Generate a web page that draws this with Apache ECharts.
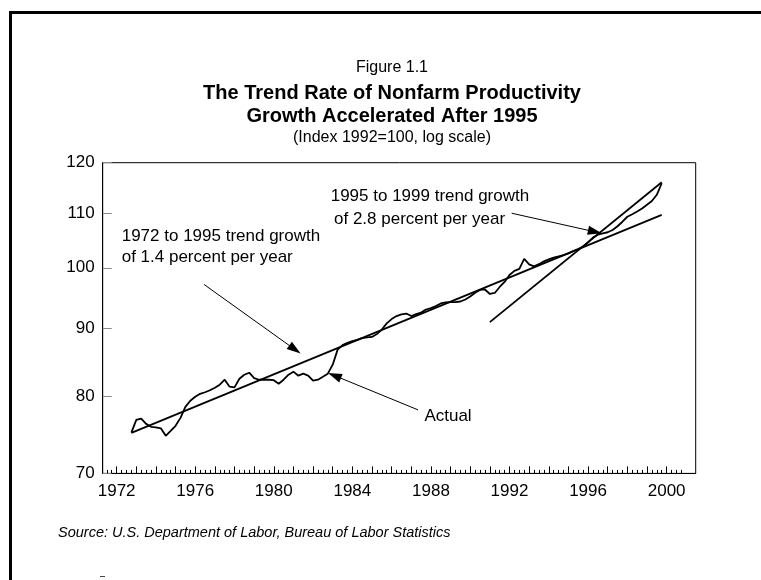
<!DOCTYPE html>
<html><head><meta charset="utf-8">
<script src="https://cdn.jsdelivr.net/npm/echarts@6/dist/echarts.min.js"></script>
<style>html,body{margin:0;padding:0;background:#fff}#c{width:761px;height:580px}</style>
</head><body><div id="c"></div>
<script>
// ---- data ----
const firstQuarter = 1972.75;   // first observation (year, quarterly step)
const quarterStep = 0.25;
const productivity = [
75.14,76.82,76.99,76.28,75.89,75.82,75.69,74.71,75.36,76.02,77.08,78.57,79.40,79.95,80.37,80.58,80.86,
81.21,81.64,82.35,81.36,81.26,82.50,83.07,83.36,82.57,82.35,82.35,82.35,82.28,81.78,82.35,83.07,83.51,
82.93,83.22,82.93,82.21,82.35,82.78,83.22,84.53,86.77,87.45,87.78,88.06,88.24,88.52,88.64,88.70,89.14,
89.84,90.81,91.49,91.97,92.25,92.37,91.97,92.29,92.54,93.02,93.25,93.59,94.00,94.16,94.21,94.21,94.32,
94.65,95.15,95.76,96.23,96.31,95.56,95.73,96.73,97.58,98.76,99.47,99.81,101.56,100.60,100.25,100.63,
101.12,101.48,101.79,102.01,102.24,102.54,102.95,103.31,103.74,104.52,105.38,105.91,106.17,106.36,
106.78,107.47,108.32,109.26,109.74,110.26,110.85,111.57,112.29,113.5,115.8
];
const trend7295 = [[1972.75, 75.1], [1999.75, 109.6]];
const trend9599 = [[1991.0, 91.0], [1999.75, 116.0]];
const yTickLabels = [70, 80, 90, 100, 110, 120];
const xTickLabels = [1972, 1976, 1980, 1984, 1988, 1992, 1996, 2000];
// annotation arrows: [from, to] in data units (year, index)
const arrowTrend1 = [[1976.445, 97.16], [1981.078, 86.78]];
const arrowTrend2 = [[1992.11, 109.93], [1996.348, 106.45]];
const arrowActual = [[1987.341, 78.16], [1983.09, 82.94]];

// ---- build ----
const L = Math.log;
const actualData = productivity.map((v, i) => [firstQuarter + i * quarterStep, L(v)]);
const tr = a => a.map(p => [p[0], L(p[1])]);
const yearTicks = [];
for (let y = 1972; y <= 2000; y++) yearTicks.push(y);
const quarterTicks = [];
for (let q = 1971.5; q <= 2000.8; q += 0.25) quarterTicks.push(+q.toFixed(2));
const FONT = 'Liberation Sans, Arial, Helvetica, sans-serif';
const xMin = 1971.29, xMax = 2001.48;
function arrow(a) {
  return [[{coord: [a[0][0], L(a[0][1])], symbol: 'none'},
           {coord: [a[1][0], L(a[1][1])], symbol: 'triangle', symbolSize: [9, 14]}]];
}
const chart = echarts.init(document.getElementById('c'), null, {renderer: 'canvas'});
chart.setOption({
  animation: false,
  backgroundColor: '#fff',
  grid: {left: 102.7, top: 162.7, right: 65.3, bottom: 106.6, show: true, borderColor: '#000', borderWidth: 1, backgroundColor: 'transparent'},
  xAxis: [{
    type: 'value', min: xMin, max: xMax,
    axisLine: {show: true, lineStyle: {color: '#000', width: 1}},
    axisTick: {show: true, inside: true, length: 7, customValues: yearTicks, lineStyle: {color: '#000'}},
    axisLabel: {customValues: xTickLabels, formatter: v => String(Math.round(v)), color: '#000', fontSize: 17, fontFamily: FONT, margin: 9},
    splitLine: {show: false}
  }, {
    type: 'value', min: xMin, max: xMax, position: 'bottom',
    axisLine: {show: false},
    axisTick: {show: true, inside: true, length: 3.5, customValues: quarterTicks, lineStyle: {color: '#000'}},
    axisLabel: {show: false}, splitLine: {show: false}
  }],
  yAxis: {
    type: 'value', min: L(70), max: L(120),
    axisLine: {show: true, lineStyle: {color: '#000', width: 1}},
    axisTick: {show: true, inside: true, length: 9, customValues: yTickLabels.map(L), lineStyle: {color: '#888'}},
    axisLabel: {customValues: yTickLabels.map(L), formatter: v => String(Math.round(Math.exp(v))), color: '#000', fontSize: 17, fontFamily: FONT, margin: 8},
    splitLine: {show: false}
  },
  series: [
    {type: 'line', data: actualData, showSymbol: false, lineStyle: {color: '#000', width: 1.8}, z: 3},
    {type: 'line', data: tr(trend7295), showSymbol: false, lineStyle: {color: '#000', width: 1.8}, z: 3,
     markLine: {silent: true, animation: false, label: {show: false}, lineStyle: {color: '#000', width: 1, type: 'solid'},
       data: [].concat(arrow(arrowTrend1), arrow(arrowTrend2), arrow(arrowActual))}},
    {type: 'line', data: tr(trend9599), showSymbol: false, lineStyle: {color: '#000', width: 1.8}, z: 3}
  ],
  graphic: [
    {type: 'polyline', shape: {points: [[10.5, 580], [10.5, 12.5], [761, 12.5]]}, style: {stroke: '#000', lineWidth: 3, fill: null}},
    {type: 'text', x: 392, y: 68, style: {text: 'Figure 1.1', font: '16px ' + FONT, fill: '#000', align: 'center', verticalAlign: 'middle'}},
    {type: 'text', x: 392, y: 93, style: {text: 'The Trend Rate of Nonfarm Productivity', font: 'bold 20px ' + FONT, fill: '#000', align: 'center', verticalAlign: 'middle'}},
    {type: 'text', x: 392, y: 116, style: {text: 'Growth Accelerated After 1995', font: 'bold 20px ' + FONT, fill: '#000', align: 'center', verticalAlign: 'middle'}},
    {type: 'text', x: 392, y: 138, style: {text: '(Index 1992=100, log scale)', font: '16px ' + FONT, fill: '#000', align: 'center', verticalAlign: 'middle'}},
    {type: 'text', x: 121.7, y: 236.7, style: {text: '1972 to 1995 trend growth', font: '17px ' + FONT, fill: '#000', align: 'left', verticalAlign: 'middle'}},
    {type: 'text', x: 121.7, y: 257.3, style: {text: 'of 1.4 percent per year', font: '17px ' + FONT, fill: '#000', align: 'left', verticalAlign: 'middle'}},
    {type: 'text', x: 330.7, y: 196.7, style: {text: '1995 to 1999 trend growth', font: '17px ' + FONT, fill: '#000', align: 'left', verticalAlign: 'middle'}},
    {type: 'text', x: 334, y: 219, style: {text: 'of 2.8 percent per year', font: '17px ' + FONT, fill: '#000', align: 'left', verticalAlign: 'middle'}},
    {type: 'text', x: 448, y: 416.7, style: {text: 'Actual', font: '17px ' + FONT, fill: '#000', align: 'center', verticalAlign: 'middle'}},
    {type: 'text', x: 58, y: 533.3, style: {text: 'Source: U.S. Department of Labor, Bureau of Labor Statistics', font: 'italic 14.5px ' + FONT, fill: '#000', align: 'left', verticalAlign: 'middle'}},
    {type: 'line', shape: {x1: 100, y1: 576.5, x2: 105, y2: 576.5}, style: {stroke: '#444', lineWidth: 1}}
  ]
});
</script></body></html>
